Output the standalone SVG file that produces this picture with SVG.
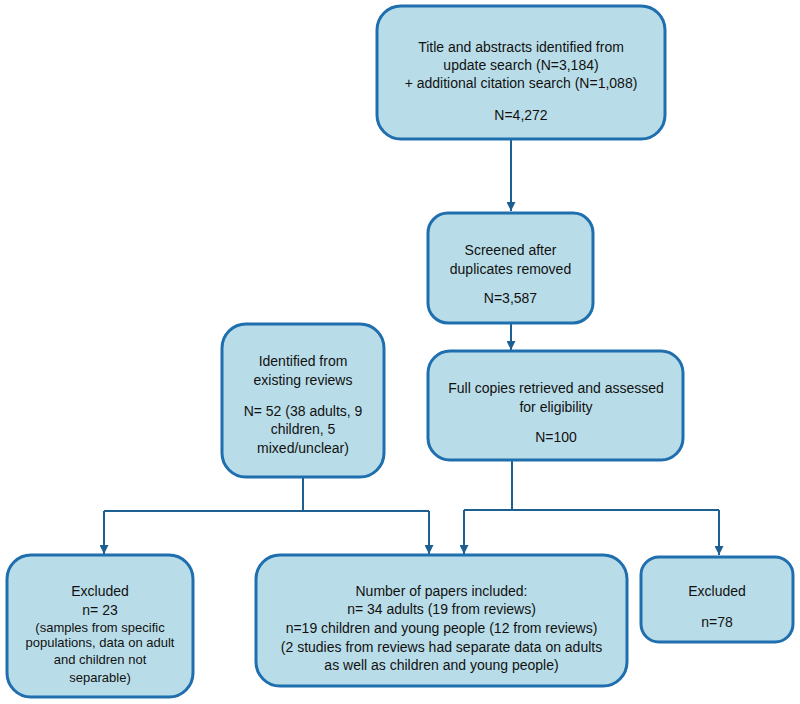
<svg xmlns="http://www.w3.org/2000/svg" width="800" height="704" viewBox="0 0 800 704">
<style>
.box{fill:#b9dde8;stroke:#1f6eae;stroke-width:3}
text{font-family:"Liberation Sans",Arial,sans-serif;font-size:14px;fill:#111;text-anchor:middle}
.s{font-size:13px}
.c{fill:none;stroke:#1d5f91;stroke-width:2}
</style>
<defs>
<marker id="ah" markerWidth="8" markerHeight="8" refX="4" refY="8" orient="auto" markerUnits="userSpaceOnUse" viewBox="0 0 8 8">
<path d="M0,0 L8,0 L4,8 Z" fill="#1d5f91" transform="rotate(-90 4 4)"/>
</marker>
<marker id="a" markerWidth="9" markerHeight="9" refX="9" refY="4.5" orient="auto" markerUnits="userSpaceOnUse" viewBox="0 0 9 9">
<path d="M0,0 L9,4.5 L0,9 Z" fill="#1d5f91"/>
</marker>
</defs>
<g id="connectors">
<path class="c" d="M511,140 V211" marker-end="url(#a)"/>
<path class="c" d="M511,323 V350" marker-end="url(#a)"/>
<path class="c" d="M303,478 V511 M104,511 H429"/>
<path class="c" d="M104,511 V554" marker-end="url(#a)"/>
<path class="c" d="M429,511 V554" marker-end="url(#a)"/>
<path class="c" d="M512,461 V510 M464,510 H719"/>
<path class="c" d="M464,510 V554" marker-end="url(#a)"/>
<path class="c" d="M719,510 V555" marker-end="url(#a)"/>
</g>
<g id="n1">
<rect class="box" x="377" y="6" width="288" height="133" rx="24"/>
<text x="521" y="52">Title and abstracts identified from</text>
<text x="521" y="70">update search (N=3,184)</text>
<text x="521" y="88">+ additional citation search (N=1,088)</text>
<text x="521" y="120">N=4,272</text>
</g>
<g id="n2">
<rect class="box" x="428" y="213" width="165" height="110" rx="20"/>
<text x="510.5" y="255">Screened after</text>
<text x="510.5" y="274">duplicates removed</text>
<text x="510.5" y="303">N=3,587</text>
</g>
<g id="n3">
<rect class="box" x="222" y="324" width="162" height="153" rx="24"/>
<text x="303" y="366">Identified from</text>
<text x="303" y="385">existing reviews</text>
<text x="303" y="416">N= 52 (38 adults, 9</text>
<text x="303" y="434">children, 5</text>
<text x="303" y="453">mixed/unclear)</text>
</g>
<g id="n4">
<rect class="box" x="428" y="351" width="255" height="109" rx="22"/>
<text x="556" y="393">Full copies retrieved and assessed</text>
<text x="556" y="412">for eligibility</text>
<text x="556" y="442">N=100</text>
</g>
<g id="n5">
<rect class="box" x="7" y="555" width="186" height="142" rx="24"/>
<text x="100" y="596">Excluded</text>
<text x="100" y="615">n= 23</text>
<text class="s" x="100" y="632">(samples from specific</text>
<text class="s" x="100" y="647">populations, data on adult</text>
<text class="s" x="100" y="664">and children not</text>
<text class="s" x="100" y="682">separable)</text>
</g>
<g id="n6">
<rect class="box" x="256" y="555" width="371" height="131" rx="24"/>
<text x="441.5" y="596">Number of papers included:</text>
<text x="441.5" y="614">n= 34 adults (19 from reviews)</text>
<text x="441.5" y="633">n=19 children and young people (12 from reviews)</text>
<text x="441.5" y="652">(2 studies from reviews had separate data on adults</text>
<text x="441.5" y="670">as well as children and young people)</text>
</g>
<g id="n7">
<rect class="box" x="641" y="557" width="152" height="85" rx="18"/>
<text x="717" y="596">Excluded</text>
<text x="717" y="627">n=78</text>
</g>
</svg>
